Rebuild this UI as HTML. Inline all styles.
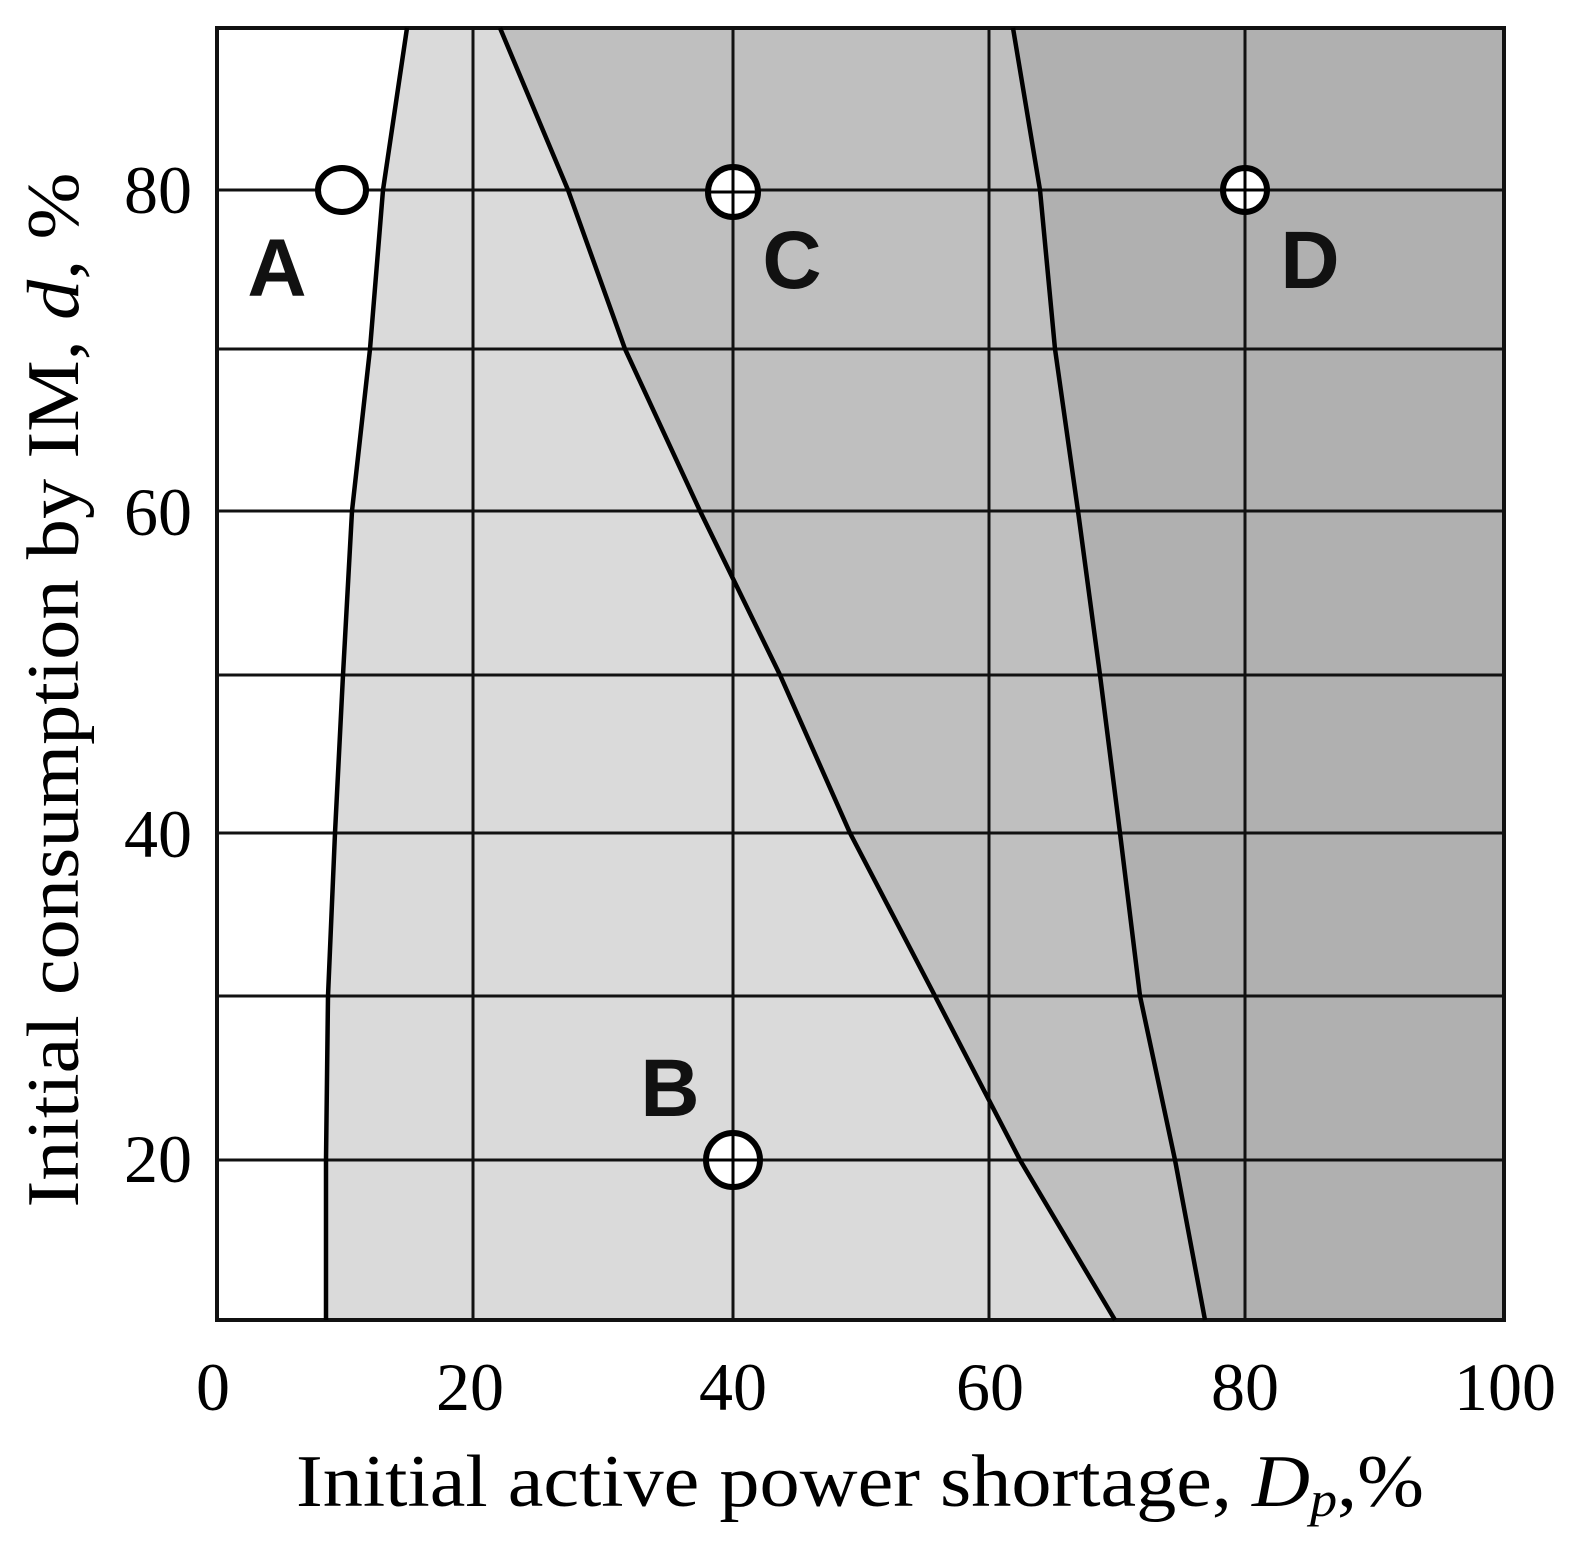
<!DOCTYPE html>
<html><head><meta charset="utf-8"><style>html,body{margin:0;padding:0;background:#fff}svg{display:block}</style></head>
<body>
<svg width="1582" height="1555" viewBox="0 0 1582 1555" xmlns="http://www.w3.org/2000/svg">
<rect x="217" y="28" width="1287" height="1292" fill="#b0b0b0"/>
<polygon points="500,28 1013,28 1040,190 1055,349 1078,511 1100,675 1120,833 1140,996 1175,1160 1205,1320 1115,1320 1020,1160 935,996 850,833 780,675 700,511 625,349 568,190" fill="#bfbfbf"/>
<polygon points="407,28 500,28 568,190 625,349 700,511 780,675 850,833 935,996 1020,1160 1115,1320 326,1320 326,1160 328,996 335,833 343,675 352,511 370,349 383,190" fill="#dadada"/>
<polygon points="217,28 407,28 383,190 370,349 352,511 343,675 335,833 328,996 326,1160 326,1320 217,1320" fill="#ffffff"/>
<g stroke="#111" stroke-width="3" fill="none">
<line x1="473" y1="28" x2="473" y2="1320"/><line x1="733" y1="28" x2="733" y2="1320"/>
<line x1="989" y1="28" x2="989" y2="1320"/><line x1="1245" y1="28" x2="1245" y2="1320"/>
<line x1="217" y1="190" x2="1504" y2="190"/><line x1="217" y1="349" x2="1504" y2="349"/>
<line x1="217" y1="511" x2="1504" y2="511"/><line x1="217" y1="675" x2="1504" y2="675"/>
<line x1="217" y1="833" x2="1504" y2="833"/><line x1="217" y1="996" x2="1504" y2="996"/>
<line x1="217" y1="1160" x2="1504" y2="1160"/>
<rect x="217" y="28" width="1287" height="1292" stroke-width="4"/>
</g>
<g stroke="#000" stroke-width="4.5" fill="none">
<polyline points="407,28 383,190 370,349 352,511 343,675 335,833 328,996 326,1160 326,1320"/>
<polyline points="500,28 568,190 625,349 700,511 780,675 850,833 935,996 1020,1160 1115,1320"/>
<polyline points="1013,28 1040,190 1055,349 1078,511 1100,675 1120,833 1140,996 1175,1160 1205,1320"/>
</g>
<g stroke="#000" stroke-width="6" fill="#fff">
<ellipse cx="342" cy="190" rx="24" ry="22"/>
<circle cx="733" cy="192" r="25"/>
<circle cx="1245" cy="190" r="22"/>
<circle cx="733" cy="1160" r="27"/>
</g>
<g stroke="#000" stroke-width="3">
<line x1="733" y1="167" x2="733" y2="217"/><line x1="708" y1="192" x2="758" y2="192"/>
<line x1="1245" y1="168" x2="1245" y2="212"/><line x1="1223" y1="190" x2="1267" y2="190"/>
<line x1="733" y1="1133" x2="733" y2="1187"/><line x1="706" y1="1160" x2="760" y2="1160"/>
</g>
<g font-family="Liberation Sans, sans-serif" font-weight="bold" font-size="82" fill="#111" text-anchor="middle">
<text x="277" y="296">A</text><text x="792" y="288">C</text><text x="1310" y="288">D</text><text x="670" y="1116">B</text>
</g>
<g font-family="Liberation Serif, serif" font-size="68" fill="#000" text-anchor="middle">
<text x="213" y="1410">0</text><text x="470" y="1410">20</text><text x="733" y="1410">40</text>
<text x="990" y="1410">60</text><text x="1245" y="1410">80</text><text x="1505" y="1410">100</text>
</g>
<g font-family="Liberation Serif, serif" font-size="68" fill="#000" text-anchor="end">
<text x="192" y="213">80</text><text x="192" y="535">60</text><text x="192" y="857">40</text><text x="192" y="1182">20</text>
</g>
<text x="860" y="1506" font-family="Liberation Serif, serif" font-size="74" text-anchor="middle" textLength="1128" lengthAdjust="spacingAndGlyphs">Initial active power shortage, <tspan font-style="italic">D<tspan font-size="50" dy="10">p</tspan></tspan><tspan dy="-10">,%</tspan></text>
<text transform="translate(78,690) rotate(-90)" font-family="Liberation Serif, serif" font-size="74" text-anchor="middle" textLength="1035" lengthAdjust="spacingAndGlyphs">Initial consumption by IM, <tspan font-style="italic">d</tspan>, %</text>
</svg>
</body></html>
